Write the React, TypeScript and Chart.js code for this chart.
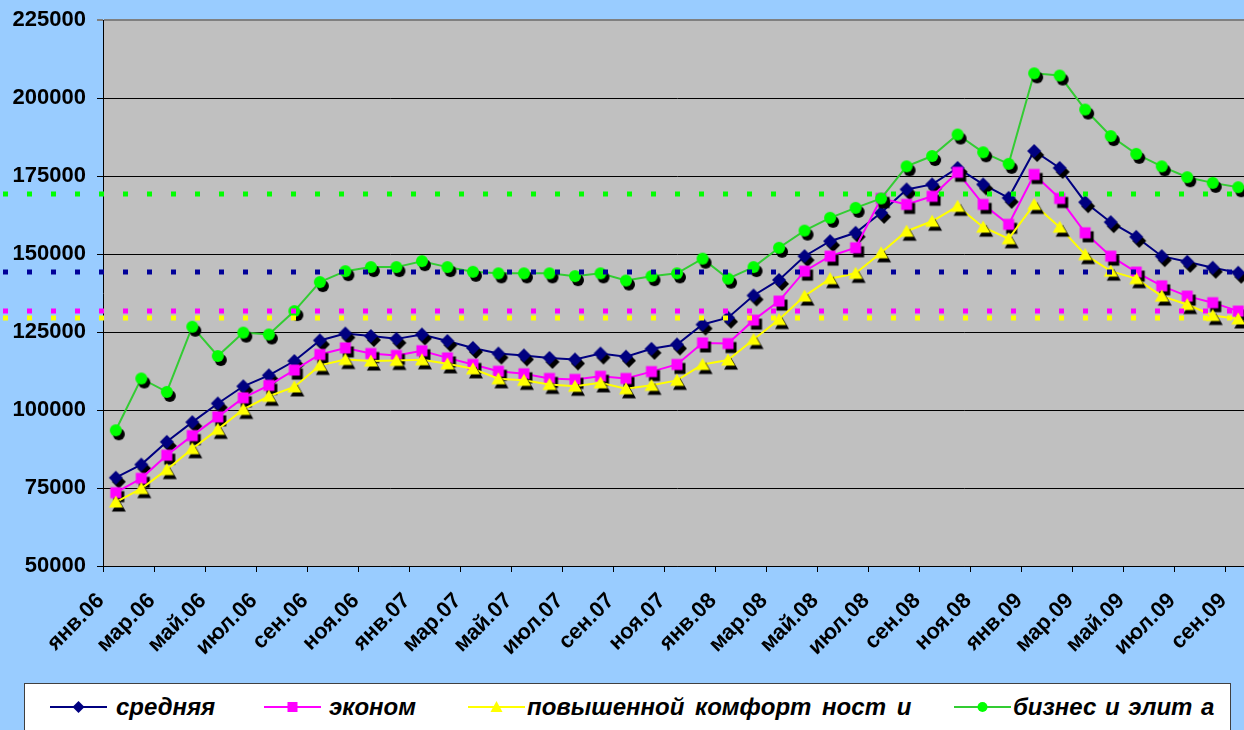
import React, { useEffect, useRef } from 'react';
import { Chart, registerables } from 'chart.js';

Chart.register(...registerables);

const categories = [
  'янв.06', 'фев.06', 'мар.06', 'апр.06', 'май.06', 'июн.06', 'июл.06', 'авг.06', 'сен.06', 'окт.06', 'ноя.06', 'дек.06',
  'янв.07', 'фев.07', 'мар.07', 'апр.07', 'май.07', 'июн.07', 'июл.07', 'авг.07', 'сен.07', 'окт.07', 'ноя.07', 'дек.07',
  'янв.08', 'фев.08', 'мар.08', 'апр.08', 'май.08', 'июн.08', 'июл.08', 'авг.08', 'сен.08', 'окт.08', 'ноя.08', 'дек.08',
  'янв.09', 'фев.09', 'мар.09', 'апр.09', 'май.09', 'июн.09', 'июл.09', 'авг.09', 'сен.09',
];

const seriesNames = ['средняя', 'эконом', 'повышенной комфорт ност и', 'бизнес и элит а'];

const averageValues = [
  78300, 82500, 89800, 96100, 102100, 107600, 111100, 115700, 122300, 124500, 123700, 122800,
  124200, 122100, 119900, 118100, 117500, 116700, 116200, 118100, 117100, 119600, 121000, 127400,
  129600, 136700, 141700, 149300, 154100, 156800, 163200, 170700, 172300, 177600, 172300, 168000,
  183000, 177600, 166600, 160200, 155500, 149300, 147500, 145600, 144000,
];

const economyValues = [
  73500, 78100, 85500, 91800, 97800, 103900, 107900, 112800, 117800, 119900, 118100, 117500,
  119000, 116700, 114600, 112400, 111600, 110100, 109800, 110800, 110100, 112300, 114600, 121500,
  121300, 128800, 134900, 144500, 149300, 152000, 167800, 165900, 168500, 176200, 165900, 159500,
  175500, 167800, 156800, 149300, 144200, 139800, 136500, 134400, 131700,
];

const comfortValues = [
  70500, 74800, 80900, 87600, 93800, 100200, 104400, 107400, 114300, 116200, 115700, 115900,
  116100, 114800, 113200, 110000, 109500, 108200, 107600, 108700, 106800, 107900, 109500, 114600,
  116000, 122600, 129000, 136500, 142100, 143800, 150400, 157300, 160500, 165300, 158600, 154900,
  165900, 158600, 149800, 144500, 142100, 136500, 133800, 130300, 129200,
];

const businessValues = [
  93500, 110100, 105800, 126700, 117300, 124800, 124200, 131700, 141000, 144500, 145800, 145800,
  147700, 145800, 144300, 143800, 143800, 143800, 142900, 143800, 141500, 142900, 143800, 148500,
  142100, 145800, 152000, 157500, 161600, 164800, 167800, 178100, 181400, 188300, 182600, 178900,
  207900, 207200, 196300, 187800, 182100, 178100, 174600, 172800, 171400,
];

// dotted reference levels (same order as series)
const referenceLevels = [144200, 131700, 129400, 169200];

const yMin = 50000;
const yMax = 225000;
const yStep = 25000;

const FONT = "'Liberation Sans', Arial, sans-serif";

const lineColors = ['#000080', '#FF00FF', '#FFFF00', '#33CC33'];
const markerColors = ['#000080', '#FF00FF', '#FFFF00', '#00FF00'];
const dotColors = ['#000099', '#FF00FF', '#FFFF00', '#00FF00'];
const shapes = ['diamond', 'square', 'triangle', 'circle'];

function drawShape(ctx: CanvasRenderingContext2D, shape: string, cx: number, cy: number, color: string) {
  ctx.fillStyle = color;
  ctx.beginPath();
  if (shape === 'diamond') {
    const r = 7;
    ctx.moveTo(cx, cy - r);
    ctx.lineTo(cx + r, cy);
    ctx.lineTo(cx, cy + r);
    ctx.lineTo(cx - r, cy);
    ctx.closePath();
    ctx.fill();
  } else if (shape === 'square') {
    const s = 11;
    ctx.rect(cx - s / 2, cy - s / 2, s, s);
    ctx.fill();
  } else if (shape === 'triangle') {
    ctx.moveTo(cx, cy - 6.5);
    ctx.lineTo(cx + 7, cy + 5.5);
    ctx.lineTo(cx - 7, cy + 5.5);
    ctx.closePath();
    ctx.fill();
  } else {
    ctx.arc(cx, cy, 6, 0, Math.PI * 2);
    ctx.fill();
  }
}

function makeMarker(shape: string, color: string) {
  const c = document.createElement('canvas');
  c.width = 26;
  c.height = 26;
  const ctx = c.getContext('2d')!;
  drawShape(ctx, shape, 16, 17, '#000000');
  drawShape(ctx, shape, 13, 13, color);
  return c;
}

function LegendSymbol({ index }: { index: number }) {
  const color = markerColors[index];
  const line = lineColors[index];
  const cx = 28.5;
  const cy = 8;
  let marker: React.ReactNode = null;
  if (shapes[index] === 'diamond') {
    marker = <polygon points={`${cx},${cy - 6} ${cx + 6},${cy} ${cx},${cy + 6} ${cx - 6},${cy}`} fill={color} />;
  } else if (shapes[index] === 'square') {
    marker = <rect x={cx - 5} y={cy - 5} width={10} height={10} fill={color} />;
  } else if (shapes[index] === 'triangle') {
    marker = <polygon points={`${cx},${cy - 6} ${cx + 6},${cy + 5} ${cx - 6},${cy + 5}`} fill={color} />;
  } else {
    marker = <circle cx={cx} cy={cy} r={5} fill={color} />;
  }
  return (
    <svg width={57} height={16} style={{ display: 'block' }}>
      <line x1={0} y1={cy} x2={57} y2={cy} stroke={line} strokeWidth={2} />
      {marker}
    </svg>
  );
}

const legendSampleLeft = [25, 239, 443, 929];
const legendTextLeft = [91, 304, 502, 988];

export default function App() {
  const canvasRef = useRef<HTMLCanvasElement | null>(null);

  useEffect(() => {
    const canvas = canvasRef.current;
    if (!canvas) return;
    Chart.defaults.font.family = FONT;

    const seriesValues = [averageValues, economyValues, comfortValues, businessValues];
    const datasets = seriesValues.map((vals, i) => ({
      label: seriesNames[i],
      data: vals,
      borderColor: lineColors[i],
      backgroundColor: markerColors[i],
      borderWidth: 2,
      pointStyle: makeMarker(shapes[i], markerColors[i]),
      pointRadius: 6,
      pointHoverRadius: 6,
      tension: 0,
      fill: false,
      order: 3 - i,
    }));

    const areaBg = {
      id: 'areaBg',
      beforeDraw(chart: any) {
        const { ctx, chartArea } = chart;
        ctx.save();
        ctx.fillStyle = '#C0C0C0';
        ctx.fillRect(chartArea.left, chartArea.top, chartArea.right - chartArea.left, chartArea.bottom - chartArea.top);
        ctx.restore();
      },
    };

    const refLines = {
      id: 'refLines',
      afterDatasetsDraw(chart: any) {
        const { ctx } = chart;
        const yScale = chart.scales.y;
        ctx.save();
        ctx.lineWidth = 5;
        ctx.lineCap = 'butt';
        ctx.setLineDash([5, 19]);
        referenceLevels.forEach((lvl, i) => {
          const y = Math.round(yScale.getPixelForValue(lvl));
          ctx.strokeStyle = dotColors[i];
          ctx.beginPath();
          ctx.moveTo(3, y);
          ctx.lineTo(chart.width, y);
          ctx.stroke();
        });
        ctx.restore();
      },
    };

    const chart = new Chart(canvas, {
      type: 'line',
      data: { labels: categories, datasets: datasets as any },
      options: {
        responsive: false,
        animation: false,
        layout: { padding: { top: 20, left: 0, right: 11, bottom: 0 } },
        plugins: {
          legend: { display: false },
          tooltip: { enabled: false },
        },
        scales: {
          x: {
            type: 'category',
            offset: true,
            afterFit: (s: any) => {
              s.height = 117;
              s.paddingLeft = 0;
              s.paddingRight = 0;
            },
            grid: {
              drawOnChartArea: false,
              offset: true,
              tickLength: 6,
              lineWidth: 1,
              color: (c: any) => (c.index % 2 === 0 ? '#000000' : 'rgba(0,0,0,0)'),
            },
            border: { color: '#000000', width: 1 },
            ticks: {
              autoSkip: false,
              minRotation: 45,
              maxRotation: 45,
              padding: 16,
              labelOffset: -15,
              color: '#000000',
              font: { family: FONT, weight: 'bold', size: 22 },
              callback: (_v: any, idx: number) => (idx % 2 === 0 ? categories[idx] : ''),
            },
          },
          y: {
            min: yMin,
            max: yMax,
            afterFit: (s: any) => {
              s.width = 103;
              s.paddingTop = 0;
              s.paddingBottom = 0;
            },
            grid: {
              tickLength: 6,
              color: (c: any) => (c.tick && c.tick.value === yMax ? '#808080' : '#000000'),
              lineWidth: (c: any) => (c.tick && c.tick.value === yMax ? 2 : 1),
            },
            border: { color: '#000000', width: 1 },
            ticks: {
              stepSize: yStep,
              padding: 11,
              color: '#000000',
              font: { family: FONT, weight: 'bold', size: 22 },
              callback: (v: any) => String(v),
            },
          },
        },
      },
      plugins: [areaBg, refLines],
    });
    return () => chart.destroy();
  }, []);

  return (
    <div
      style={{
        position: 'fixed',
        left: 0,
        top: 0,
        width: 1244,
        height: 730,
        overflow: 'hidden',
        background: '#99CCFF',
      }}
    >
      <canvas ref={canvasRef} width={1262} height={683} style={{ position: 'absolute', left: 0, top: 0 }} />
      <div
        style={{
          position: 'absolute',
          left: 24,
          top: 683,
          width: 1207,
          height: 70,
          background: '#FFFFFF',
          border: '1px solid #404040',
          boxSizing: 'border-box',
        }}
      >
        {seriesNames.map((name, i) => (
          <React.Fragment key={name}>
            <div style={{ position: 'absolute', left: legendSampleLeft[i], top: 15 }}>
              <LegendSymbol index={i} />
            </div>
            <div
              style={{
                position: 'absolute',
                left: legendTextLeft[i],
                top: 8,
                height: 30,
                lineHeight: '30px',
                fontFamily: FONT,
                fontWeight: 'bold',
                fontStyle: 'italic',
                fontSize: 24,
                wordSpacing: i === 3 ? 2 : 4,
                color: '#000000',
                whiteSpace: 'pre',
              }}
            >
              {name}
            </div>
          </React.Fragment>
        ))}
      </div>
    </div>
  );
}
